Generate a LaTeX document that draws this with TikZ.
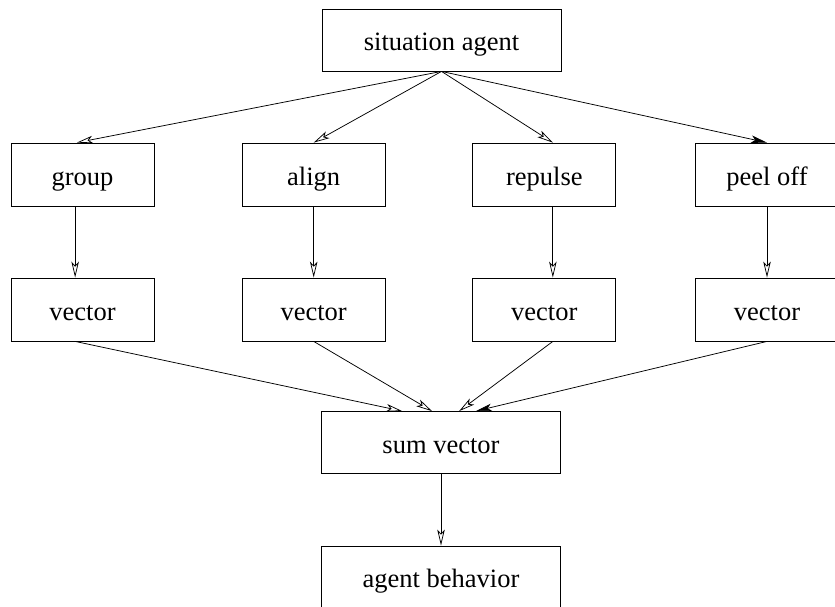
\documentclass[tikz,border=0pt]{standalone}
\usepackage{fontspec}
\setmainfont{Liberation Serif}
\usetikzlibrary{arrows.meta}

\begin{document}
\begin{tikzpicture}[x=1pt, y=-1pt,
            box/.style={draw, line width=0.8pt, minimum width=143pt, minimum height=63pt, inner sep=0pt, text height=21pt, text depth=0pt, font=\fontsize{26.5}{30}\selectfont},
            widebox/.style={box, minimum width=239pt, minimum height=62pt},
            flow/.style={line width=0.75pt, -{Stealth[open, length=16pt, width=7.5pt, inset=4pt]}},
            fullflow/.style={line width=0.75pt, -{Stealth[length=16pt, width=7.5pt, inset=4pt]}}]
            \useasboundingbox (0,0) rectangle (835,606);
            %
            \node[widebox] (situation) at (441.5,40) {situation agent};
            %
            \node[box] (group) at (82.5,174.5) {group};
            \node[box] (align) at (313.7,174.5) {align};
            \node[box] (repulse) at (544.3,174.5) {repulse};
            \node[box] (peeloff) at (767,174.5) {peel off};
            %
            \node[box] (groupvec) at (82.5,309.5) {vector};
            \node[box] (alignvec) at (313.7,309.5) {vector};
            \node[box] (repulsevec) at (544.3,309.5) {vector};
            \node[box] (peeloffvec) at (767,309.5) {vector};
            %
            \node[widebox] (sum) at (441,442.5) {sum vector};
            \node[widebox] (behavior) at (441,577) {agent behavior};
            %
            \draw[flow] (situation.south) -- (group.100);
            \draw[flow] (situation.south) -- (align.north);
            \draw[flow] (situation.south) -- (repulse.75);
            \draw[fullflow] (situation.south) -- (peeloff.north);
            %
            \draw[flow] (group.-103) -- (groupvec.103);
            \draw[flow] (align.south) -- (alignvec.north);
            \draw[flow] (repulse.-75) -- (repulsevec.75);
            \draw[flow] (peeloff.south) -- (peeloffvec.north);
            %
            \draw[flow] (groupvec.-103) -- (sum.141);
            \draw[flow] (alignvec.south) -- (sum.106);
            \draw[flow] (repulsevec.-75) -- (sum.60);
            \draw[fullflow] (peeloffvec.south) -- (sum.42);
            %
            \draw[flow] (sum.south) -- (behavior.north);
        \end{tikzpicture}
\end{document}
